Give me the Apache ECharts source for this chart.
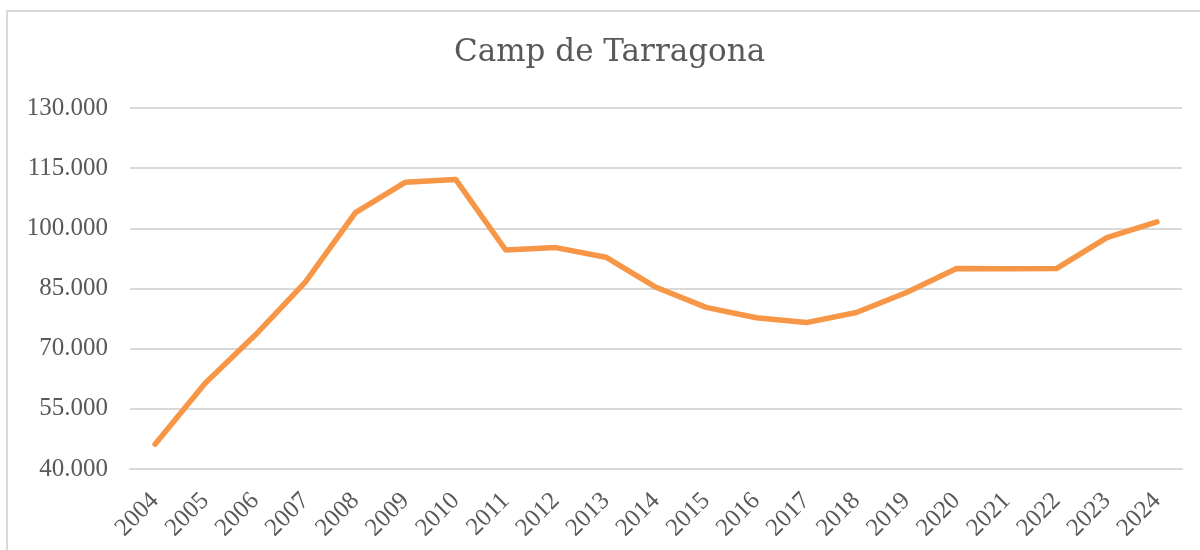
<!DOCTYPE html>
<html>
<head>
<meta charset="UTF-8">
<title>Camp de Tarragona</title>
<script src="https://cdn.jsdelivr.net/npm/echarts@6/dist/echarts.min.js"></script>
<style>
  html, body { margin: 0; padding: 0; overflow: hidden; background: #fff; }
  #frame { position: absolute; left: 6px; top: 10px; width: 1300px; height: 700px; border: 2px solid #d9d9d9; box-sizing: border-box; }
  #main { position: absolute; left: 0; top: 0; width: 1200px; height: 550px; }
</style>
</head>
<body>
<div id="frame"></div>
<div id="main"></div>
<script>
  // anys i valors llegits del gràfic
  var years = ['2004', '2005', '2006', '2007', '2008', '2009', '2010', '2011', '2012', '2013', '2014',
               '2015', '2016', '2017', '2018', '2019', '2020', '2021', '2022', '2023', '2024'];
  var values = [46200, 61400, 73400, 86600, 103900, 111500, 112200, 94600, 95200, 92800, 85300,
                80300, 77700, 76500, 79000, 84000, 90000, 89900, 90000, 97700, 101600];

  var yMin = 40000, yMax = 130000, yStep = 15000;

  var fmt = function (v) {
    return String(v).replace(/\B(?=(\d{3})+(?!\d))/g, '.');
  };

  var chart = echarts.init(document.getElementById('main'));
  chart.setOption({
    animation: false,
    title: {
      text: 'Camp de Tarragona',
      left: 449,
      top: 32,
      textStyle: { fontFamily: 'DejaVu Serif', fontSize: 31, fontWeight: 'normal', color: '#595959' }
    },
    grid: { left: 130, right: 18, top: 108, bottom: 81 },
    xAxis: {
      type: 'category',
      data: years,
      boundaryGap: true,
      axisLine: { show: true, lineStyle: { color: '#d9d9d9', width: 2 } },
      axisTick: { show: false },
      axisLabel: { rotate: 45, margin: 28, fontFamily: 'Liberation Serif', fontSize: 25, color: '#595959' }
    },
    yAxis: {
      type: 'value',
      min: yMin,
      max: yMax,
      interval: yStep,
      axisLine: { show: false },
      axisTick: { show: false },
      splitLine: { lineStyle: { color: '#d9d9d9', width: 2 } },
      axisLabel: { margin: 22, fontFamily: 'Liberation Serif', fontSize: 25, color: '#595959', formatter: fmt }
    },
    series: [{
      type: 'line',
      data: values,
      symbol: 'none',
      lineStyle: { color: '#f79646', width: 5.5, cap: 'round', join: 'round' }
    }]
  });
</script>
</body>
</html>
